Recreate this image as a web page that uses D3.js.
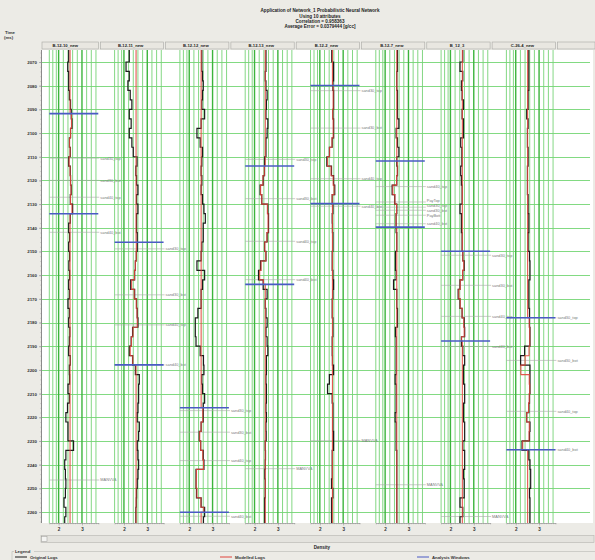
<!DOCTYPE html>
<html><head><meta charset="utf-8">
<script src="https://cdn.jsdelivr.net/npm/d3@7/dist/d3.min.js"></script>
<style>
body{margin:0;background:#ecebe6;}
svg{display:block;font-family:"Liberation Sans",Arial,sans-serif;}
</style></head>
<body><svg id="c" width="595" height="560"></svg>
<script>
// ---------------- DATA ----------------
const titleLines = ["Application of Network_1 Probabilistic Neural Network","Using 10 attributes","Correlation = 0.958363","Average Error = 0.0379444 [g/cc]"];
const wells = ["B-12-10_new","B-12-11_new","B-12-12_new","B-12-13_new","B-12-2_new","B-12-7_new","B_12_3","C-26-4_new"];
const timeTicks = [2070,2080,2090,2100,2110,2120,2130,2140,2150,2160,2170,2180,2190,2200,2210,2220,2230,2240,2250,2260];
const densityTicks = [2,3];
const gridVals = [1.6,1.75,1.9,2,2.2,2.4,2.6,2.8,3,3.2,3.4,3.6];
const times = [2066,2070,2074,2078,2082,2086,2090,2094,2098,2102,2106,2110,2114,2118,2122,2126,2130,2134,2138,2142,2146,2150,2154,2158,2162,2166,2170,2174,2178,2182,2186,2190,2194,2198,2202,2206,2210,2214,2218,2222,2226,2230,2234,2238,2242,2246,2250,2254,2258,2262];

// Original logs (density, g/cc) per well
const orig1 = [2.43,2.39,2.43,2.43,2.46,2.51,2.54,2.57,2.51,2.46,2.50,2.43,2.50,2.51,2.54,2.50,2.60,2.50,2.43,2.47,2.43,2.47,2.44,2.47,2.43,2.46,2.40,2.46,2.43,2.48,2.46,2.43,2.50,2.46,2.47,2.40,2.46,2.38,2.31,2.40,2.40,2.64,2.31,2.26,2.29,2.31,2.29,2.23,2.31,2.26];
const orig2 = [2.23,2.09,2.23,2.17,2.27,2.34,2.23,2.31,2.23,2.34,2.40,2.56,2.51,2.54,2.60,2.54,2.60,2.54,2.54,2.57,2.57,2.53,2.49,2.46,2.29,2.46,2.54,2.57,2.60,2.37,2.31,2.23,2.37,2.49,2.66,2.63,2.63,2.60,2.57,2.66,2.63,2.57,2.60,2.63,2.60,2.57,2.54,2.53,2.51,2.51];
const orig3 = [2.54,2.54,2.57,2.60,2.57,2.54,2.66,2.51,2.33,2.47,2.57,2.54,2.51,2.54,2.51,2.57,2.63,2.69,2.60,2.60,2.54,2.51,2.33,2.66,2.57,2.51,2.51,2.37,2.26,2.26,2.29,2.47,2.61,2.63,2.54,2.57,2.66,2.60,2.60,2.51,2.43,2.49,2.60,2.63,2.29,2.29,2.31,2.51,2.66,2.61];
const orig4 = [2.49,2.49,2.46,2.49,2.54,2.51,2.49,2.57,2.54,2.49,2.49,2.43,2.43,2.37,2.24,2.31,2.57,2.60,2.60,2.54,2.43,2.49,2.26,2.17,2.37,2.54,2.46,2.49,2.54,2.49,2.54,2.57,2.51,2.51,2.49,2.51,2.51,2.49,2.51,2.49,2.50,2.46,2.47,2.46,2.44,2.46,2.46,2.43,2.43,2.43];
const orig5 = [2.51,2.59,2.59,2.56,2.59,2.59,2.56,2.59,2.59,2.53,2.41,2.30,2.50,2.59,2.64,2.53,2.56,2.53,2.54,2.56,2.56,2.53,2.53,2.56,2.59,2.56,2.53,2.53,2.56,2.56,2.53,2.53,2.54,2.59,2.41,2.33,2.53,2.56,2.56,2.56,2.59,2.59,2.53,2.53,2.53,2.50,2.56,2.50,2.50,2.50];
const orig6 = [2.53,2.53,2.50,2.50,2.53,2.53,2.53,2.59,2.47,2.53,2.59,2.50,2.53,2.50,2.30,2.41,2.50,2.47,2.47,2.50,2.50,2.44,2.44,2.47,2.36,2.50,2.50,2.53,2.53,2.44,2.47,2.47,2.47,2.47,2.43,2.47,2.47,2.47,2.43,2.47,2.47,2.47,2.50,2.50,2.50,2.50,2.50,2.50,2.50,2.50];
const orig7 = [2.53,2.41,2.53,2.47,2.50,2.56,2.50,2.56,2.56,2.44,2.49,2.49,2.44,2.47,2.50,2.50,2.41,2.47,2.47,2.50,2.50,2.53,2.59,2.53,2.41,2.33,2.41,2.50,2.59,2.61,2.47,2.53,2.61,2.56,2.56,2.61,2.61,2.56,2.56,2.61,2.61,2.53,2.61,2.61,2.56,2.59,2.59,2.41,2.53,2.41];
const orig8 = [2.56,2.56,2.56,2.56,2.53,2.53,2.47,2.53,2.50,2.50,2.53,2.53,2.50,2.50,2.50,2.53,2.53,2.56,2.56,2.53,2.53,2.59,2.61,2.61,2.56,2.56,2.56,2.59,2.59,2.61,2.61,2.38,2.21,2.61,2.61,2.61,2.59,2.56,2.47,2.61,2.59,2.27,2.56,2.61,2.64,2.64,2.59,2.61,2.61,2.61];

// Modelled logs: constant outside analysis window, values inside window (on the time grid)
const modelBase = [2.49,2.52,2.51,2.46,2.54,2.50,2.51,2.51];
const windowTop = [2091.8,2146.1,2216.0,2113.9,2079.9,2111.8,2149.9,2178.0];
const windowBot = [2134.1,2197.9,2260.1,2163.9,2129.8,2139.7,2187.8,2233.7];
const model1 = [2.55,2.51,2.47,2.49,2.45,2.49,2.51,2.53,2.51,2.57,2.51];
const model2 = [2.53,2.49,2.45,2.33,2.44,2.53,2.56,2.57,2.39,2.32,2.27,2.38];
const model3 = [2.58,2.51,2.45,2.49,2.58,2.61,2.31,2.30,2.33,2.50,2.62];
const model4 = [2.42,2.36,2.26,2.31,2.55,2.58,2.58,2.53,2.44,2.48,2.28,2.22,2.38];
const model5 = [2.57,2.57,2.55,2.57,2.57,2.52,2.42,2.33,2.48,2.57,2.61,2.53];
const model6 = [2.52,2.49,2.33,2.42,2.49,2.47,2.47];
const model7 = [2.53,2.57,2.52,2.42,2.36,2.42,2.50,2.57,2.59,2.48];
const model8 = [2.58,2.60,2.60,2.57,2.40,2.22,2.58,2.60,2.58,2.55,2.47,2.58,2.57,2.30];

// Formation tops per well [name, time]
const tops1 = [["sand30_top",2110.6],["sand30_bot",2120.0],["sand40_top",2127.1],["sand40_bot",2141.9],["MANVVA",2246.5]];
const tops2 = [["sand30_top",2148.9],["sand30_bot",2168.3],["sand40_top",2181.0],["sand40_bot",2197.9]];
const tops3 = [["sand30_top",2217.2],["sand30_bot",2226.3],["sand40_top",2238.3],["sand40_bot",2261.8]];
const tops4 = [["sand30_top",2111.1],["sand30_bot",2127.7],["sand40_top",2145.7],["sand40_bot",2161.9],["MANVVA",2241.7]];
const tops5 = [["sand30_top",2082.1],["sand30_bot",2097.9],["sand40_top",2119.3],["sand40_bot",2130.9],["MANVVA",2229.9]];
const tops6 = [["sand40_top",2122.6],["PayTop",2129.1],["sand30_top",2131.3],["sand30_bot",2132.6],["PayBott",2134.7],["sand40_bot",2138.3],["MANVVA",2248.5]];
const tops7 = [["sand30_top",2151.6],["sand30_bot",2164.3],["sand40_top",2177.4],["sand40_bot",2190.1],["MANVVA",2261.9]];
const tops8 = [["sand30_top",2178.0],["sand30_bot",2196.0],["sand40_top",2217.5],["sand40_bot",2233.7]];

const legendItems = [["Original Logs","#1a1a1a"],["Modelled Logs","#e0453c"],["Analysis Windows","#4a5bc4"]];

// ---------------- DRAW ----------------
const origs = [orig1,orig2,orig3,orig4,orig5,orig6,orig7,orig8];
const models = [model1,model2,model3,model4,model5,model6,model7,model8];
const tops = [tops1,tops2,tops3,tops4,tops5,tops6,tops7,tops8];
// small label nudges (px) for crowded tops in B-12-7_new
const labelNudge = {"5:PayTop":-1.2,"5:sand30_top":-1.9,"5:sand30_bot":0.4,"5:PayBott":0.8};

const svg = d3.select("#c");
const plotTop = 50, plotBot = 523, plotLeft = 42, plotRight = 593;
const y = d3.scaleLinear().domain([2070,2260]).range([62,512]);
const tTop = y.invert(plotTop), tBot = y.invert(plotBot);
const trackStep = 65.3, trackW = 49;
const xs = wells.map((w,i)=>d3.scaleLinear().domain([1.6,3.7]).range([49.3+trackStep*i, 49.3+trackStep*i+trackW]));

// title
svg.append("g").selectAll("text").data(titleLines).join("text")
  .attr("x",320).attr("y",(d,i)=>12.3+i*5.2).attr("text-anchor","middle")
  .attr("font-size",4.6).attr("font-weight","bold").attr("fill","#222").text(d=>d);

// Time label
svg.append("text").attr("x",5).attr("y",34).attr("font-size",4.3).attr("font-weight","bold").attr("fill","#333").text("Time");
svg.append("text").attr("x",4).attr("y",39).attr("font-size",4.3).attr("font-weight","bold").attr("fill","#333").text("(ms)");

// plot background
svg.append("rect").attr("x",plotLeft).attr("y",plotTop).attr("width",plotRight-plotLeft).attr("height",plotBot-plotTop).attr("fill","#fff");

// headers
const hdr = svg.append("g");
wells.forEach((w,i)=>{
  const right = xs[i].range()[1];
  const left = i===0 ? plotLeft : xs[i-1].range()[1]+2;
  hdr.append("rect").attr("x",left).attr("y",42).attr("width",right-left).attr("height",7)
    .attr("fill","#e9e7e1").attr("stroke","#a8a8a4").attr("stroke-width",0.6);
  hdr.append("text").attr("x",right-33).attr("y",47.3).attr("text-anchor","middle")
    .attr("font-size",4.2).attr("font-weight","bold").attr("fill","#222").text(w);
});
hdr.append("rect").attr("x",xs[7].range()[1]+2).attr("y",42).attr("width",plotRight-xs[7].range()[1]).attr("height",7)
  .attr("fill","#e9e7e1").attr("stroke","#a8a8a4").attr("stroke-width",0.6);

// horizontal grid
svg.append("g").selectAll("line").data(timeTicks).join("line")
  .attr("x1",plotLeft).attr("x2",590).attr("y1",d=>Math.round(y(d))+0.5).attr("y2",d=>Math.round(y(d))+0.5)
  .attr("stroke","#82da82").attr("stroke-width",1);

// y axis
const yAxisMinor = d3.axisLeft(y).tickValues(d3.range(2066,2265,2)).tickSize(1.5).tickFormat("");
const gMinor = svg.append("g").attr("transform",`translate(${plotLeft},0)`).call(yAxisMinor);
gMinor.select(".domain").attr("stroke","#8a8a8a").attr("d",`M-0.5,${plotTop}V${plotBot}`);
gMinor.selectAll(".tick line").attr("stroke","#8a8a8a").attr("stroke-width",0.5);
const yAxis = d3.axisLeft(y).tickValues(timeTicks).tickSize(3).tickPadding(2).tickFormat(d3.format("d"));
const gY = svg.append("g").attr("transform",`translate(${plotLeft},0)`).call(yAxis);
gY.select(".domain").remove();
gY.selectAll(".tick line").attr("stroke","#8a8a8a").attr("stroke-width",0.6);
gY.selectAll("text").attr("font-size",4.4).attr("font-weight","bold").attr("fill","#333").attr("font-family","Liberation Sans, Arial, sans-serif");

// tracks
const lineGen = (x)=>d3.line().x(d=>x(d[1])).y(d=>y(d[0])).curve(d3.curveStepBefore);
wells.forEach((w,i)=>{
  const x = xs[i];
  const g = svg.append("g");
  // vertical grid
  g.selectAll("line.v").data(gridVals).join("line").attr("class","v")
    .attr("x1",d=>x(d)).attr("x2",d=>x(d)).attr("y1",plotTop).attr("y2",plotBot)
    .attr("stroke",d=>(d===2||d===3)?"#3cb43c":"#76d276")
    .attr("stroke-width",d=>(d===2||d===3)?1.4:0.9);
  // formation tops
  g.selectAll("line.top").data(tops[i]).join("line").attr("class","top")
    .attr("x1",x.range()[0]).attr("x2",x.range()[1]+1).attr("y1",d=>y(d[1])).attr("y2",d=>y(d[1]))
    .attr("stroke","#a9a9a9").attr("stroke-width",0.6);
  g.selectAll("text.top").data(tops[i]).join("text").attr("class","top")
    .attr("x",x.range()[1]+2).attr("y",d=>y(d[1])+1.4+(labelNudge[i+":"+d[0]]||0))
    .attr("font-size",3.9).attr("fill","#7a7a7a").text(d=>d[0]);
  // original log
  const o = times.map((t,k)=>[t,origs[i][k]]);
  o[0] = [tTop,o[0][1]];
  o.push([tBot,origs[i][origs[i].length-1]]);
  g.append("path").attr("d",lineGen(x)(o)).attr("fill","none").attr("stroke","#1c1c1c").attr("stroke-width",1.2);
  // modelled log
  const wt = times.filter(t=>t>=windowTop[i] && t<windowBot[i]);
  const m = [[tTop,modelBase[i]],[windowTop[i],models[i][0]]];
  for(let k=1;k<wt.length;k++) m.push([wt[k],models[i][k]]);
  m.push([windowBot[i],modelBase[i]]);
  m.push([tBot,modelBase[i]]);
  g.append("path").attr("d",lineGen(x)(m)).attr("fill","none").attr("stroke","#e0453c").attr("stroke-width",1.1).attr("opacity",0.9);
  // analysis windows
  g.selectAll("line.win").data([windowTop[i],windowBot[i]]).join("line").attr("class","win")
    .attr("x1",x.range()[0]).attr("x2",x.range()[1]).attr("y1",d=>y(d)).attr("y2",d=>y(d))
    .attr("stroke","#4a5bc4").attr("stroke-width",1.6);
  // bottom axis
  const ax = d3.axisBottom(x).tickValues(d3.range(1.6,3.71,0.1)).tickSize(1.2).tickFormat("");
  const ga = svg.append("g").attr("transform",`translate(0,${plotBot})`).call(ax);
  ga.select(".domain").attr("stroke","#8a8a8a").attr("stroke-width",0.6);
  ga.selectAll(".tick line").attr("stroke","#8a8a8a").attr("stroke-width",0.4);
  const ax2 = d3.axisBottom(x).tickValues(densityTicks).tickSize(2.5).tickPadding(2).tickFormat(d3.format("d"));
  const gb = svg.append("g").attr("transform",`translate(0,${plotBot})`).call(ax2);
  gb.select(".domain").remove();
  gb.selectAll(".tick line").attr("stroke","#8a8a8a").attr("stroke-width",0.5);
  gb.selectAll("text").attr("font-size",4.6).attr("font-weight","bold").attr("fill","#333").attr("font-family","Liberation Sans, Arial, sans-serif");
});

// scrollbar
svg.append("rect").attr("x",41).attr("y",535.5).attr("width",553).attr("height",7).attr("fill","#e4e3de").attr("stroke","#b5b5b0").attr("stroke-width",0.6);
svg.append("rect").attr("x",41.5).attr("y",536.5).attr("width",5.5).attr("height",5).attr("fill","#f4f4f2").attr("stroke","#9a9a96").attr("stroke-width",0.5);

// Density label
svg.append("text").attr("x",322).attr("y",548.5).attr("text-anchor","middle").attr("font-size",4.5).attr("font-weight","bold").attr("fill","#222").text("Density");

// legend
svg.append("path").attr("d","M12,560V551.5H14M34,551.5H595").attr("fill","none").attr("stroke","#b8b8b4").attr("stroke-width",0.6);
svg.append("text").attr("x",15).attr("y",553).attr("font-size",4.3).attr("font-weight","bold").attr("fill","#333").text("Legend");
const legX = [15,220,417];
legendItems.forEach((d,i)=>{
  svg.append("line").attr("x1",legX[i]).attr("x2",legX[i]+12).attr("y1",557).attr("y2",557).attr("stroke",d[1]).attr("stroke-width",1);
  svg.append("text").attr("x",legX[i]+15).attr("y",558.6).attr("font-size",4.3).attr("font-weight","bold").attr("fill","#333").text(d[0]);
});
</script></body></html>
